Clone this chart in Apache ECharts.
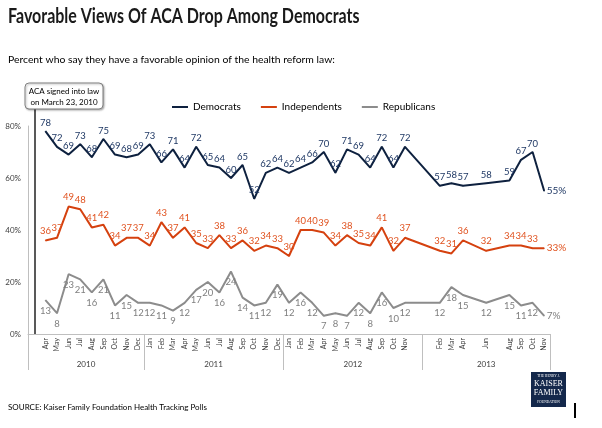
<!DOCTYPE html>
<html><head><meta charset="utf-8">
<script src="https://cdn.jsdelivr.net/npm/echarts@6/dist/echarts.min.js"></script>
<style>html,body{margin:0;padding:0;background:#fff}#c{width:602px;height:428px}</style>
</head><body><div id="c"></div>
<script>
const categories = ['Mar 2010','Apr 2010','May 2010','Jun 2010','Jul 2010','Aug 2010','Sep 2010','Oct 2010','Nov 2010','Dec 2010',
 'Jan 2011','Feb 2011','Mar 2011','Apr 2011','May 2011','Jun 2011','Jul 2011','Aug 2011','Sep 2011','Oct 2011','Nov 2011','Dec 2011',
 'Jan 2012','Feb 2012','Mar 2012','Apr 2012','May 2012','Jun 2012','Jul 2012','Aug 2012','Sep 2012','Oct 2012','Nov 2012','Dec 2012',
 'Jan 2013','Feb 2013','Mar 2013','Apr 2013','May 2013','Jun 2013','Jul 2013','Aug 2013','Sep 2013','Oct 2013','Nov 2013'];
const monthLabels = ['','Apr','May','Jun','Jul','Aug','Sep','Oct','Nov','Dec',
 'Jan','Feb','Mar','Apr','May','Jun','Jul','Aug','Sep','Oct','Nov','Dec',
 'Jan','Feb','Mar','Apr','May','Jun','Jul','Aug','Sep','Oct','Nov','',
 '','Feb','Mar','Apr','','Jun','','Aug','Sep','Oct','Nov'];
const democrats = [null,78,72,69,73,68,75,69,68,69, 73,66,71,64,72,65,64,60,65,52,62,64, 62,64,66,70,62,71,69,64,72,64,72,null, null,57,58,57,null,58,null,59,67,70,55];
const independents = [null,36,37,49,48,41,42,34,37,37, 34,43,37,41,35,33,38,33,36,32,34,33, 30,40,40,39,34,38,35,34,41,32,37,null, null,32,31,36,null,32,null,34,34,33,33];
const republicans = [null,13,8,23,21,16,21,11,15,12, 12,11,9,12,17,20,16,24,14,11,12,19, 12,16,12,7,8,7,12,8,16,10,12,null, null,12,18,15,null,12,null,15,11,12,7];
const yTicks = [0,20,40,60,80];

const FONT = 'Lato';
const years = [];
categories.forEach((c,i)=>{const y=c.split(' ')[1]; if(!years.length||years[years.length-1].y!==y) years.push({y:y,start:i,count:1}); else years[years.length-1].count++;});
const boundaries = years.map(g=>g.start);
const yearCenters = {};
years.forEach(g=>{yearCenters[(g.start + g.count/2).toFixed(1)] = g.y;});

function mk(arr){
  const last = arr.length-1;
  return arr.map((v,i)=> i===last ? {value:v, label:{position:'right', distance:2, formatter:'{c}%', fontSize:10}} : v);
}
function series(name, arr, lineColor, labelColor, pos, dist){
  return {name:name, type:'line', data:mk(arr), connectNulls:true, symbol:'circle', symbolSize:1, showAllSymbol:true,
    itemStyle:{color:lineColor}, lineStyle:{color:lineColor, width:2},
    label:{show:true, position:pos, distance:dist, fontSize:9.5, fontFamily:FONT, color:labelColor},
    emphasis:{disabled:true}};
}
const chart = echarts.init(document.getElementById('c'));
chart.setOption({
  animation:false,
  textStyle:{fontFamily:FONT},
  title:[
    {text:'Percent who say they have a favorable opinion of the health reform law:', left:8, top:55, padding:0, textStyle:{fontSize:10.4, fontWeight:'normal', color:'#000', fontFamily:FONT}},
    {text:'SOURCE: Kaiser Family Foundation Health Tracking Polls', left:8, top:403, padding:0, textStyle:{fontSize:8, fontWeight:'normal', color:'#000', fontFamily:FONT}}
  ],
  legend:{data:['Democrats','Independents','Republicans'], left:172, top:102, padding:0, icon:'rect', itemWidth:16, itemHeight:2, itemGap:20,
    textStyle:{fontSize:10, color:'#000', fontFamily:FONT}},
  grid:{left:28, right:52, top:126, bottom:94},
  xAxis:[
    {type:'category', data:categories, boundaryGap:true,
     axisLine:{lineStyle:{color:'#bfbfbf', width:1}},
     axisTick:{show:true, interval:(i)=>boundaries.indexOf(i)>=0, length:36, lineStyle:{color:'#bfbfbf'}},
     axisLabel:{interval:0, rotate:90, fontSize:7, color:'#404040', margin:4, fontFamily:FONT,
       formatter:(v)=>monthLabels[categories.indexOf(v)]}},
    {type:'value', min:0, max:categories.length, interval:0.5, position:'bottom', offset:22,
     axisLine:{show:false}, axisTick:{show:false}, splitLine:{show:false},
     axisLabel:{fontSize:8, color:'#404040', margin:4, fontFamily:FONT, formatter:(v)=>yearCenters[v.toFixed(1)]||''}}
  ],
  yAxis:{type:'value', min:yTicks[0], max:yTicks[yTicks.length-1], interval:20,
    axisLine:{show:true, lineStyle:{color:'#bfbfbf'}}, axisTick:{show:false}, splitLine:{show:false},
    axisLabel:{formatter:'{value}%', fontSize:8, color:'#404040', margin:7, fontFamily:FONT}},
  series:[
    series('Democrats', democrats, '#0e213f', '#1f3864', 'top', 3),
    series('Independents', independents, '#d5410f', '#e0521f', 'top', 4),
    series('Republicans', republicans, '#8c8c8c', '#7f7f7f', 'bottom', 5)
  ],
  graphic:[
    {type:'text', x:8, y:17, scaleX:0.8, style:{text:'Favorable Views Of ACA Drop Among Democrats', fontSize:20, fontWeight:'bold', fontFamily:FONT, fill:'#1a1a1a', verticalAlign:'middle'}},
    {type:'line', shape:{x1:35, y1:109, x2:35, y2:334}, style:{stroke:'#595959', lineWidth:2}},
    {type:'rect', shape:{x:25, y:83, width:78, height:26, r:4}, style:{fill:'#fff', stroke:'#808080', lineWidth:1, shadowBlur:2, shadowColor:'rgba(0,0,0,0.3)', shadowOffsetX:1, shadowOffsetY:1}},
    {type:'text', x:64, y:91, style:{text:'ACA signed into law', fontSize:8, fontFamily:FONT, fill:'#000', align:'center', verticalAlign:'middle'}},
    {type:'text', x:64, y:102, style:{text:'on March 23, 2010', fontSize:8, fontFamily:FONT, fill:'#000', align:'center', verticalAlign:'middle'}},
    {type:'rect', shape:{x:531, y:372, width:35, height:35}, style:{fill:'#14284b'}},
    {type:'text', x:548.5, y:376, style:{text:'THE HENRY J.', fontSize:3.5, fontFamily:'Liberation Serif', fill:'#fff', align:'center', verticalAlign:'middle'}},
    {type:'text', x:548.5, y:384, style:{text:'KAISER', fontSize:8, fontFamily:'Liberation Serif', fill:'#fff', align:'center', verticalAlign:'middle'}},
    {type:'text', x:548.5, y:393, style:{text:'FAMILY', fontSize:8, fontFamily:'Liberation Serif', fill:'#fff', align:'center', verticalAlign:'middle'}},
    {type:'text', x:548.5, y:402, style:{text:'FOUNDATION', fontSize:3.5, fontFamily:'Liberation Serif', fill:'#fff', align:'center', verticalAlign:'middle'}},
    {type:'rect', shape:{x:574, y:403, width:2, height:15}, style:{fill:'#000'}}
  ]
});
</script></body></html>
